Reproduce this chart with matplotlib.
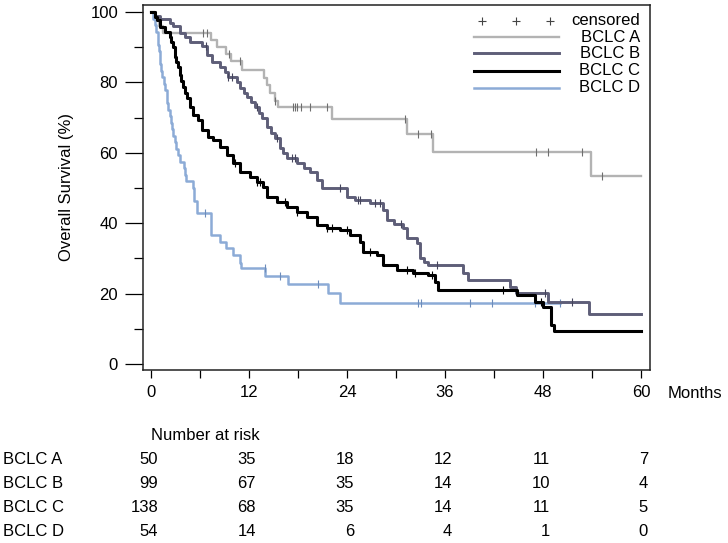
import numpy as np
import matplotlib
matplotlib.use("Agg")
import matplotlib.pyplot as plt
from matplotlib import transforms

# Kaplan-Meier steps (months, survival %)
t_a = [0, 0.5, 1.0, 1.5, 7.3, 8.1, 9.2, 9.8, 11.1, 13.8, 14.2, 14.6, 15.2, 15.5,
       22.2, 31.3, 34.5, 53.9]
s_a = [100, 98, 96, 94, 92, 90, 88, 86, 83.6, 81.4, 79.2, 77, 74.8, 73,
       69.6, 65.3, 60.3, 53.4]
end_a = 60
cens_a = [6.4, 6.9, 9.5, 10.9, 15.2, 17.4, 17.6, 17.9, 18.4, 19.5, 21.5, 31.1,
          32.7, 34.3, 47.1, 48.6, 52.8, 55.2]

t_b = [0, 0.5, 1.1, 2.3, 2.7, 3.5, 4.2, 4.8, 6.2, 6.9, 7.5, 8.4, 9.0, 9.4, 10.5,
       10.9, 11.4, 11.8, 12.2, 12.7, 13.2, 13.6, 14.2, 14.7, 15.2, 15.8, 16.2,
       16.6, 17.9, 18.7, 19.5, 20.3, 20.9, 24.0, 25.0, 26.8, 28.4, 28.9, 29.8,
       30.8, 31.3, 32.6, 32.9, 33.4, 33.9, 38.2, 38.8, 43.9, 44.7, 48.6, 53.6]
s_b = [100, 99, 98, 97, 96, 94, 92.9, 91.4, 90.4, 87.9, 85.9, 84.4, 82.9, 81.5,
       80.1, 78.4, 77.1, 75.8, 74.3, 73, 71.3, 69.8, 67.3, 65.7, 64.2, 61.4, 60,
       58.6, 57.1, 55.8, 54.5, 52.3, 50, 47.5, 46.6, 45.7, 43.7, 40.9, 39.8,
       38.7, 35.8, 34.4, 30.1, 29.1, 28.1, 26, 23.9, 21.8, 20.1, 17.6, 14.2]
end_b = 60
cens_b = [6.7, 9.4, 9.9, 13.0, 15.4, 17.3, 17.6, 23.1, 25.3, 25.6, 27.4, 28.0,
          30.6, 35.0, 48.3, 51.5]

t_c = [0, 0.5, 0.7, 1.1, 1.7, 2.3, 2.5, 2.7, 2.9, 3.1, 3.3, 3.5, 3.7, 3.9, 4.2,
       4.4, 4.8, 5.1, 5.8, 6.2, 7.0, 7.6, 8.4, 9.3, 10.0, 10.9, 12.1, 13.0, 13.7,
       14.2, 15.4, 16.6, 17.9, 19.1, 20.3, 21.5, 23.1, 24.4, 25.6, 25.9, 27.7,
       28.4, 30.1, 32.1, 33.9, 34.8, 35.1, 44.8, 47.0, 48.0, 49.0, 49.4]
s_c = [100, 98.5, 97.7, 95.8, 94.4, 93, 91.4, 90, 87.2, 85.9, 84.4, 82.1, 80.3,
       78.7, 77.1, 75.6, 73, 70.8, 69.3, 66.5, 64.5, 63.6, 61.7, 59.4, 57.1, 54.5,
       53.1, 51.7, 50.3, 47.5, 46.0, 44.6, 43.2, 41.8, 39.5, 38.7, 38.1, 36.7,
       34.7, 31.8, 30.9, 28.1, 26.7, 25.9, 25.3, 23.3, 21.0, 19.6, 17.6, 16.2,
       11.0, 9.3]
end_c = 60
cens_c = [10.3, 13.0, 13.3, 16.4, 17.9, 21.5, 22.2, 24.0, 26.8, 31.3, 32.3, 34.4,
          43.1, 47.8]

t_d = [0, 0.3, 0.5, 0.6, 0.8, 0.9, 1.0, 1.1, 1.2, 1.4, 1.6, 1.7, 1.9, 2.0, 2.1,
       2.3, 2.5, 2.6, 2.7, 2.9, 3.1, 3.3, 3.6, 4.0, 4.2, 4.3, 5.1, 5.3, 5.6, 7.3,
       8.4, 9.2, 10.0, 10.9, 11.0, 14.0, 16.8, 21.7, 23.1]
s_d = [100, 98.1, 96.3, 94.4, 92.6, 90.7, 88.9, 85.2, 83.3, 81.5, 79.6, 77.8,
       75.9, 74.1, 72.2, 70.4, 68.5, 66.7, 64.8, 63.0, 61.1, 59.3, 57.4, 55.6,
       53.7, 51.9, 50.0, 46.3, 42.9, 36.6, 34.7, 33.0, 31.0, 28.7, 27.3, 25.0,
       22.7, 20.2, 17.3]
end_d = 50.1
cens_d = [6.6, 13.9, 15.8, 20.4, 32.7, 33.0, 39.0, 41.7, 47.0, 50.1]

groups = ["BCLC A", "BCLC B", "BCLC C", "BCLC D"]
risk_months = [0, 12, 24, 36, 48, 60]
risk_a = [50, 35, 18, 12, 11, 7]
risk_b = [99, 67, 35, 14, 10, 4]
risk_c = [138, 68, 35, 14, 11, 5]
risk_d = [54, 14, 6, 4, 1, 0]

colors = ["#b3b3b3", "#5e5e78", "#000000", "#8cabd6"]
cens_colors = ["#6e6e6e", "#45455c", "#000000", "#6d8cbb"]
widths = [1.7, 2.1, 2.2, 1.8]

plt.rcParams['font.family'] = ['Liberation Sans', 'DejaVu Sans']
plt.rcParams['font.size'] = 12

W, H = 728, 543
fig = plt.figure(figsize=(W / 100, H / 100), dpi=100)
ax = fig.add_axes([143 / W, 1 - 370 / H, 507 / W, 365 / H])


def km(ax, t, s, t_end, cens, color, lw, ccolor):
    tt = np.append(t, t_end)
    ss = np.append(s, s[-1])
    ax.step(tt, ss, where='post', color=color, lw=lw)
    idx = np.searchsorted(t, cens, side='right') - 1
    ax.plot(cens, np.asarray(s)[idx], ls='none', marker='|', ms=5.5, mew=0.8,
            color=ccolor)


curves = [(t_a, s_a, end_a, cens_a), (t_b, s_b, end_b, cens_b),
          (t_c, s_c, end_c, cens_c), (t_d, s_d, end_d, cens_d)]
for i in [0, 3, 1, 2]:
    t, s, te, c = curves[i]
    km(ax, t, s, te, c, colors[i], widths[i], cens_colors[i])

ax.set_xlim(-0.98, 61.1)
ax.set_ylim(-1.7, 102)
ax.set_xticks(np.arange(0, 61, 12))
ax.set_xticks(np.arange(6, 61, 12), minor=True)
ax.set_yticks(np.arange(0, 101, 20))
ax.set_yticks(np.arange(10, 100, 20), minor=True)
ax.tick_params(axis='x', which='both', direction='out', length=6, width=0.9, pad=5)
ax.tick_params(axis='y', which='major', direction='out', length=13, width=0.9, pad=5)
ax.tick_params(axis='y', which='minor', direction='out', length=6.5, width=0.9)
for sp in ax.spines.values():
    sp.set_linewidth(1.1)
    sp.set_color('#222222')

fig.text(67 / W, 1 - 187 / H, 'Overall Survival (%)', rotation=90,
         ha='center', va='center')
fig.text(668 / W, 1 - 393 / H, 'Months', ha='left', va='center')

# legend drawn by hand so the labels are right aligned
leg_y = [0.957, 0.912, 0.868, 0.820, 0.773]
ax.plot([0.669, 0.736, 0.803], [leg_y[0]] * 3, ls='none', marker='+', ms=6,
        mew=0.8, color='#444444', transform=ax.transAxes)
ax.text(0.980, leg_y[0], 'censored', transform=ax.transAxes, ha='right', va='center')
for i, g in enumerate(groups):
    y = leg_y[i + 1]
    ax.plot([0.653, 0.8205], [y, y], color=colors[i], lw=widths[i],
            transform=ax.transAxes)
    ax.text(0.980, y, g, transform=ax.transAxes, ha='right', va='center')

# number at risk table
blend = transforms.blended_transform_factory(ax.transData, fig.transFigure)
ax.text(0, 1 - 436 / H, 'Number at risk', transform=blend, ha='left',
        va='center', clip_on=False)
risks = [risk_a, risk_b, risk_c, risk_d]
row_y = [460, 484, 508, 532]
for g, r, ypx in zip(groups, risks, row_y):
    fig.text(3 / W, 1 - ypx / H, g, ha='left', va='center')
    for m, n in zip(risk_months, r):
        ax.text(m + 0.86, 1 - ypx / H, str(n), transform=blend, ha='right',
                va='center', clip_on=False)

fig.savefig('out.png', dpi=100)
